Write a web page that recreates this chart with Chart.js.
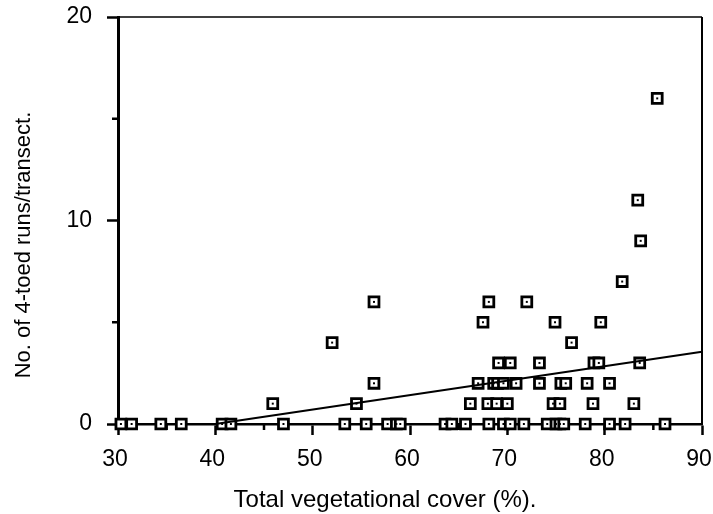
<!DOCTYPE html>
<html>
<head>
<meta charset="utf-8">
<title>4-toed runs vs vegetational cover</title>
<script src="https://cdn.jsdelivr.net/npm/chart.js@4.4.1/dist/chart.umd.min.js"></script>
<style>
  html, body { margin: 0; padding: 0; background: #fff; }
  #wrap { width: 713px; height: 514px; position: relative; }
</style>
</head>
<body>
<div id="wrap"><canvas id="chart"></canvas></div>
<script>
/* ===== DATA ===== */
// total vegetational cover (%) of each transect, grouped by no. of 4-toed runs
const cover0  = [30.3, 31.4, 34.4, 36.5, 40.7, 41.6, 47.0, 53.3, 55.5, 57.7, 58.6, 59.0,
                 63.6, 64.3, 65.7, 68.1, 69.6, 70.3, 71.7, 74.1, 75.0, 75.4, 75.8, 78.0,
                 80.5, 82.1, 86.2];
const cover1  = [45.9, 54.5, 66.2, 68.0, 68.9, 70.0, 74.7, 75.4, 78.8, 83.0];
const cover2  = [56.3, 67.0, 68.6, 69.0, 69.6, 70.9, 73.3, 75.5, 76.0, 78.2, 80.5];
const cover3  = [69.1, 70.3, 73.3, 78.9, 79.4, 83.6];
const cover4  = [52.0, 76.6];
const cover5  = [67.5, 74.9, 79.6];
const cover6  = [56.3, 68.1, 72.0];
const cover7  = [81.8];
const cover9  = [83.7];
const cover11 = [83.4];
const cover16 = [85.4];

const runsLevels = [0, 1, 2, 3, 4, 5, 6, 7, 9, 11, 16];
const coverRows  = [cover0, cover1, cover2, cover3, cover4, cover5, cover6, cover7, cover9, cover11, cover16];

// fitted regression line
const fitCover = [40, 90];
const fitRuns  = [0, 3.55];

// axes
const xTicks = [30, 40, 50, 60, 70, 80, 90];
const xMinor = [35, 45, 55, 65, 75, 85];
const yTicks = [0, 10, 20];
const yMinor = [5, 15];
const xTitle = 'Total vegetational cover (%).';
const yTitle = 'No. of 4-toed runs/transect.';

/* ===== BUILD ===== */
const points = [];
coverRows.forEach((row, i) => row.forEach(c => points.push({ x: c, y: runsLevels[i] })));
const fitLine = fitCover.map((c, i) => ({ x: c, y: fitRuns[i] }));

const FONT = '"Liberation Sans", Arial, sans-serif';

// thin top/right frame, short minor ticks and axis titles
const framePlugin = {
  id: 'frame',
  beforeDatasetsDraw(chart) {
    const { ctx, chartArea: a, scales: { x, y } } = chart;
    ctx.save();
    ctx.strokeStyle = '#000';
    ctx.lineWidth = 1.5;
    ctx.beginPath();
    ctx.moveTo(a.left, a.top);
    ctx.lineTo(a.right, a.top);
    ctx.stroke();
    ctx.lineWidth = 2;
    ctx.beginPath();
    ctx.moveTo(a.right, a.top);
    ctx.lineTo(a.right, a.bottom);
    ctx.stroke();
    ctx.lineWidth = 2.5;
    ctx.beginPath();
    xMinor.forEach(v => {
      const px = x.getPixelForValue(v);
      ctx.moveTo(px, a.bottom);
      ctx.lineTo(px, a.bottom + 6);
    });
    yMinor.forEach(v => {
      const py = y.getPixelForValue(v);
      ctx.moveTo(a.left, py);
      ctx.lineTo(a.left - 6, py);
    });
    ctx.stroke();
    ctx.restore();
  },
  afterDraw(chart) {
    const { ctx } = chart;
    ctx.save();
    ctx.fillStyle = '#000';
    ctx.textAlign = 'center';
    ctx.textBaseline = 'alphabetic';
    ctx.font = '24px ' + FONT;
    ctx.fillText(xTitle, 385, 507);
    ctx.textBaseline = 'middle';
    ctx.translate(24, 245);
    ctx.rotate(-Math.PI / 2);
    ctx.font = '22px ' + FONT;
    ctx.fillText(yTitle, 0, 0);
    ctx.restore();
  }
};

function noEdgePadding(s) {
  s.paddingTop = 0; s.paddingBottom = 0;
  s.paddingLeft = 0; s.paddingRight = 0;
}

new Chart(document.getElementById('chart'), {
  type: 'scatter',
  data: {
    datasets: [
      { // regression line, on top
        type: 'line', data: fitLine, order: 0,
        borderColor: '#000', borderWidth: 2.2, pointRadius: 0, fill: false, clip: false
      },
      { // dot in the middle of each marker
        data: points, order: 1,
        pointStyle: 'rect', pointRadius: 1.4, backgroundColor: '#000', borderWidth: 0, clip: false
      },
      { // hollow square markers
        data: points, order: 2,
        pointStyle: 'rect', pointRadius: 7, backgroundColor: '#fff',
        borderColor: '#000', borderWidth: 2.8, clip: false
      }
    ]
  },
  options: {
    responsive: true,
    maintainAspectRatio: false,
    animation: false,
    events: [],
    layout: { padding: { top: 17, right: 11, left: 0, bottom: 0 } },
    plugins: { legend: { display: false }, tooltip: { enabled: false } },
    scales: {
      x: {
        type: 'linear', min: 30, max: 90,
        afterBuildTicks: s => { s.ticks = xTicks.map(v => ({ value: v })); },
        afterFit: s => { s.height = 90; noEdgePadding(s); },
        ticks: { color: '#000', font: { family: FONT, size: 23 }, padding: 11, labelOffset: -3, maxRotation: 0, autoSkip: false },
        grid: { drawOnChartArea: false, tickLength: 11, tickWidth: 2.5, tickColor: '#000' },
        border: { display: true, width: 2.5, color: '#000' }
      },
      y: {
        type: 'linear', min: 0, max: 20,
        afterBuildTicks: s => { s.ticks = yTicks.map(v => ({ value: v })); },
        afterFit: s => { s.width = 118; noEdgePadding(s); },
        ticks: { color: '#000', font: { family: FONT, size: 23 }, padding: 15, autoSkip: false },
        grid: { drawOnChartArea: false, tickLength: 11, tickWidth: 2.5, tickColor: '#000' },
        border: { display: true, width: 3, color: '#000' }
      }
    }
  },
  plugins: [framePlugin]
});
</script>
</body>
</html>
